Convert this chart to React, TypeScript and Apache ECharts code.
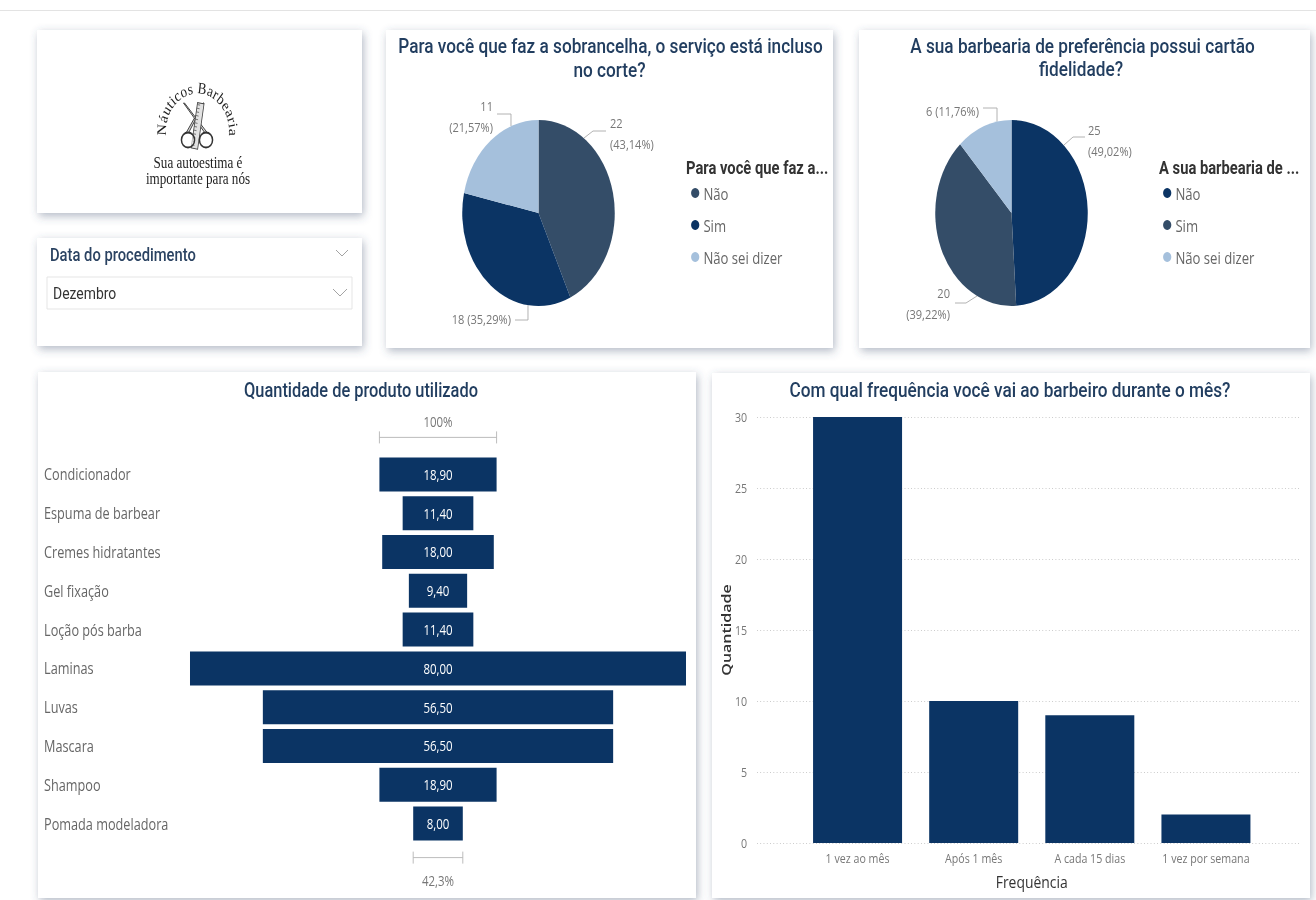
import React, { useEffect, useRef } from 'react';
import * as echarts from 'echarts';

// ---------- data ----------
const pie1Title = ['Para você que faz a sobrancelha, o serviço está incluso', 'no corte?'];
const pie1LegendTitle = 'Para você que faz a...';
const pie1Names = ['Não', 'Sim', 'Não sei dizer'];
const pie1Values = [22, 18, 11];
const pie1Wrap = [true, false, true];

const pie2Title = ['A sua barbearia de preferência possui cartão', 'fidelidade?'];
const pie2LegendTitle = 'A sua barbearia de ...';
const pie2Names = ['Não', 'Sim', 'Não sei dizer'];
const pie2Values = [25, 20, 6];
const pie2Wrap = [true, true, false];

const productTitle = 'Quantidade de produto utilizado';
const products = [
  'Condicionador', 'Espuma de barbear', 'Cremes hidratantes', 'Gel fixação', 'Loção pós barba',
  'Laminas', 'Luvas', 'Mascara', 'Shampoo', 'Pomada modeladora',
];
const productValues = [18.9, 11.4, 18.0, 9.4, 11.4, 80.0, 56.5, 56.5, 18.9, 8.0];

const freqTitle = 'Com qual frequência você vai ao barbeiro durante o mês?';
const freqCategories = ['1 vez ao mês', 'Após 1 mês', 'A cada 15 dias', '1 vez por semana'];
const freqValues = [30, 10, 9, 2];
const freqAxisMin = 0;
const freqAxisMax = 30;
const freqAxisInterval = 5;
const freqXName = 'Frequência';
const freqYName = 'Quantidade';

const logoArcText = 'Náuticos Barbearia';
const logoTagline = ['Sua autoestima é', 'importante para nós'];
const slicerTitle = 'Data do procedimento';
const slicerValue = 'Dezembro';

// ---------- styles / layout ----------
const SX = 0.82;
const PAGE_W = 1316;
const PAGE_H = 900;
const W = Math.round(PAGE_W / SX);
const X = (v: number) => v / SX;

const NAVY = '#0b3464';
const SLATE = '#344d68';
const LIGHT = '#a5c0dc';
const TITLE_COLOR = '#223e60';
const BODY_FONT = '"Open Sans", "Noto Sans", sans-serif';
const TITLE_FONT = 'Roboto, "Noto Sans", sans-serif';
const SERIF = '"Liberation Serif", "DejaVu Serif", serif';

const pie1Colors = [SLATE, NAVY, LIGHT];
const pie2Colors = [NAVY, SLATE, LIGHT];

const br = (v: number, d: number) => v.toFixed(d).replace('.', ',');

function pieLabelPos1(i: number) {
  const L = [
    { x: X(610), y: 133.5, align: 'left', line: [[X(584), 138], [X(593), 131], [X(606), 131]] },
    { x: X(511), y: 319, align: 'right', line: [[X(528), 305], [X(528), 320], [X(515), 320]] },
    { x: X(493), y: 116.5, align: 'right', line: [[X(511), 126], [X(511), 114], [X(497), 114]] },
  ];
  return L[i];
}
function pieLabelPos2(i: number) {
  const L = [
    { x: X(1088), y: 140.5, align: 'left', line: [[X(1064), 145], [X(1073), 137], [X(1085), 137]] },
    { x: X(950), y: 304, align: 'right', line: [[X(977), 296], [X(966), 303], [X(955), 303]] },
    { x: X(979), y: 111, align: 'right', line: [[X(997), 121.7], [X(997), 108], [X(983), 108]] },
  ];
  return L[i];
}

function measure(text: string, font: string) {
  try {
    const c = document.createElement('canvas').getContext('2d');
    if (c) {
      c.font = font;
      return c.measureText(text).width;
    }
  } catch (e) {}
  return text.length * 7;
}

function buildGraphic() {
  const g: any[] = [];
  g.push({ type: 'line', silent: true, shape: { x1: 0, y1: 10.5, x2: W, y2: 10.5 }, style: { stroke: '#e0e0e0', lineWidth: 1 } });
  const cards = [
    [37, 30, 325, 183],
    [37, 238, 325, 108],
    [386, 30, 447, 318],
    [859, 30, 451, 318],
    [38, 372, 658, 526],
    [712, 373, 598, 525],
  ];
  cards.forEach(([x, y, w, h]) =>
    g.push({
      type: 'rect', silent: true,
      shape: { x: X(x), y, width: X(w), height: h },
      style: { fill: '#fff', shadowBlur: 10, shadowColor: 'rgba(60,80,110,0.4)', shadowOffsetX: 2, shadowOffsetY: 3 },
    })
  );

  const title = (text: string, cx: number, y: number, size = 21) => ({
    type: 'text', silent: true, x: X(cx), y,
    style: { text, fill: TITLE_COLOR, fontFamily: TITLE_FONT, fontSize: size, fontWeight: 500, align: 'center', verticalAlign: 'middle' },
  });
  g.push(title(pie1Title[0], 610.5, 46));
  g.push(title(pie1Title[1], 609.5, 70));
  g.push(title(pie2Title[0], 1082.5, 46));
  g.push(title(pie2Title[1], 1081, 69));
  g.push(title(productTitle, 361, 390, 20));
  g.push(title(freqTitle, 1010, 390));

  const legendTitle = (text: string, x: number) => ({
    type: 'text', silent: true, x: X(x), y: 168,
    style: { text, fill: '#333', fontFamily: TITLE_FONT, fontSize: 18, fontWeight: 'bold', align: 'left', verticalAlign: 'middle' },
  });
  g.push(legendTitle(pie1LegendTitle, 686));
  g.push(legendTitle(pie2LegendTitle, 1159));

  // logo arc text (letters laid out along an arc by their measured widths)
  const arcFontSize = 16;
  const arcFont = `${arcFontSize}px ${SERIF}`;
  const chars = logoArcText.split('');
  const widths = chars.map((ch) => measure(ch, arcFont) * 0.98);
  const total = widths.reduce((a, b) => a + b, 0);
  const cx = X(197.5), cy = 132, R = 36;
  const startAng = -Math.PI / 2 - total / R / 2;
  let acc = 0;
  chars.forEach((ch, i) => {
    const mid = acc + widths[i] / 2;
    acc += widths[i];
    const rad = startAng + mid / R;
    g.push({
      type: 'text', silent: true,
      x: cx + R * Math.cos(rad), y: cy + R * Math.sin(rad),
      rotation: -(rad + Math.PI / 2),
      style: { text: ch, fill: '#1e1e1e', fontFamily: SERIF, fontSize: arcFontSize, align: 'center', verticalAlign: 'bottom' },
    });
  });
  // scissors (behind)
  g.push({ type: 'polygon', silent: true, shape: { points: [[X(186), 133], [X(188.5), 133], [X(204), 103], [X(203), 103]] }, style: { fill: '#d6d6d6', stroke: '#333', lineWidth: 1 } });
  g.push({ type: 'polygon', silent: true, shape: { points: [[X(205), 133], [X(207.5), 133], [X(184.5), 103], [X(183.5), 103]] }, style: { fill: '#d6d6d6', stroke: '#333', lineWidth: 1 } });
  // comb
  const teeth: any[] = [];
  for (let i = 0; i < 12; i++) {
    teeth.push({ type: 'line', shape: { x1: -4.5, y1: -21 + i * 3.7, x2: -1, y2: -21 + i * 3.7 }, style: { stroke: '#555', lineWidth: 0.8 } });
  }
  g.push({
    type: 'group', silent: true, x: X(198), y: 126, rotation: -0.17,
    children: [
      { type: 'rect', shape: { x: -4.5, y: -23, width: 8, height: 46 }, style: { fill: '#e2e2e2', stroke: '#444', lineWidth: 1 } },
      ...teeth,
    ],
  });
  g.push({ type: 'ellipse', silent: true, shape: { cx: X(188), cy: 140, rx: 8, ry: 7.5 }, style: { fill: 'rgba(255,255,255,0.6)', stroke: '#333', lineWidth: 1.8 } });
  g.push({ type: 'ellipse', silent: true, shape: { cx: X(206), cy: 140, rx: 8, ry: 7.5 }, style: { fill: 'rgba(255,255,255,0.6)', stroke: '#333', lineWidth: 1.8 } });
  logoTagline.forEach((t, i) =>
    g.push({
      type: 'text', silent: true, x: X(198), y: 163 + i * 16,
      style: { text: t, fill: '#1e1e1e', fontFamily: SERIF, fontSize: 16, align: 'center', verticalAlign: 'middle' },
    })
  );

  // slicer
  g.push({
    type: 'text', silent: true, x: X(50), y: 255,
    style: { text: slicerTitle, fill: '#2b4362', fontFamily: TITLE_FONT, fontSize: 18, fontWeight: 500, align: 'left', verticalAlign: 'middle' },
  });
  g.push({ type: 'polyline', silent: true, shape: { points: [[X(336), 250], [X(342), 256], [X(348), 250]] }, style: { stroke: '#999', lineWidth: 1, fill: 'none' } });
  g.push({ type: 'rect', silent: true, shape: { x: X(47), y: 277, width: X(305), height: 32 }, style: { fill: '#fff', stroke: '#e2e2e2', lineWidth: 1 } });
  g.push({
    type: 'text', silent: true, x: X(53), y: 294,
    style: { text: slicerValue, fill: '#333', fontFamily: TITLE_FONT, fontSize: 17, align: 'left', verticalAlign: 'middle' },
  });
  g.push({ type: 'polyline', silent: true, shape: { points: [[X(333), 289], [X(340), 296], [X(347), 289]] }, style: { stroke: '#999', lineWidth: 1, fill: 'none' } });
  return g;
}

function pieSeries(names: string[], values: number[], colors: string[], wrap: boolean[], center: [number, number], pos: (i: number) => any) {
  return {
    type: 'pie',
    center,
    radius: 93,
    startAngle: 90,
    clockwise: true,
    silent: true,
    data: names.map((n, i) => ({ name: n, value: values[i], itemStyle: { color: colors[i] } })),
    label: {
      show: true,
      color: '#777',
      fontFamily: BODY_FONT,
      fontSize: 13.5,
      lineHeight: 21,
      formatter: (p: any) => `${p.value}${wrap[p.dataIndex] ? '\n' : ' '}(${br(p.percent, 2)}%)`,
    },
    labelLine: { show: true, lineStyle: { color: '#aaa', width: 1 } },
    labelLayout: (p: any) => {
      const L = pos(p.dataIndex);
      return { x: L.x, y: L.y, align: L.align, verticalAlign: 'middle', labelLinePoints: L.line };
    },
  };
}

function buildOption() {
  const MAX = Math.max(...productValues);
  const first = productValues[0];
  const last = productValues[productValues.length - 1];
  const bracketLabels = ['100%', `${br((last / first) * 100, 1)}%`];

  const legend = (names: string[], colors: string[], left: number) => ({
    orient: 'vertical',
    left,
    top: 180,
    icon: 'circle',
    itemWidth: 10,
    itemHeight: 10,
    itemGap: 16,
    selectedMode: false,
    textStyle: { color: '#666', fontSize: 16, lineHeight: 16, fontFamily: BODY_FONT },
    data: names.map((n, i) => ({ name: n, itemStyle: { color: colors[i] } })),
  });

  return {
    animation: false,
    backgroundColor: '#fff',
    textStyle: { fontFamily: BODY_FONT },
    graphic: buildGraphic(),
    legend: [legend(pie1Names, pie1Colors, X(687)), legend(pie2Names, pie2Colors, X(1159))],
    grid: [
      { left: X(190), width: X(686) - X(190), top: 455, height: 388 },
      { left: X(757), width: X(1300) - X(757), top: 417, height: 426 },
      { left: X(799.5), width: X(1264) - X(799.5), top: 417, height: 426 },
    ],
    xAxis: [
      { gridIndex: 0, type: 'value', min: 0, max: MAX, show: false },
      { gridIndex: 1, type: 'value', min: 0, max: 1, show: false },
      {
        gridIndex: 2, type: 'category', data: freqCategories,
        axisLine: { show: false }, axisTick: { show: false },
        axisLabel: { color: '#777', fontSize: 13, margin: 8, fontFamily: BODY_FONT },
        name: freqXName, nameLocation: 'middle', nameGap: 30,
        nameTextStyle: { color: '#333', fontSize: 17, fontFamily: BODY_FONT },
      },
    ],
    yAxis: [
      {
        gridIndex: 0, type: 'category', data: products, inverse: true,
        axisLine: { show: false }, axisTick: { show: false },
        axisLabel: { align: 'left', margin: X(190) - X(44), color: '#666', fontSize: 15.5, fontFamily: BODY_FONT },
      },
      {
        gridIndex: 1, type: 'value', min: freqAxisMin, max: freqAxisMax, interval: freqAxisInterval,
        axisLine: { show: false }, axisTick: { show: false },
        axisLabel: { color: '#777', fontSize: 13, margin: 12, fontFamily: BODY_FONT },
        splitLine: { lineStyle: { type: [1, 3], color: '#bbbbbb', width: 1 } },
        name: freqYName, nameLocation: 'middle', nameGap: 27,
        nameTextStyle: { color: '#333', fontSize: 16, fontWeight: 600, fontFamily: BODY_FONT },
      },
      { gridIndex: 2, type: 'value', min: freqAxisMin, max: freqAxisMax, show: false },
    ],
    series: [
      pieSeries(pie1Names, pie1Values, pie1Colors, pie1Wrap, [X(538.5), 213], pieLabelPos1),
      pieSeries(pie2Names, pie2Values, pie2Colors, pie2Wrap, [X(1011.5), 213], pieLabelPos2),
      {
        type: 'bar', xAxisIndex: 0, yAxisIndex: 0, stack: 'funnel', silent: true,
        barWidth: 34,
        itemStyle: { color: 'rgba(0,0,0,0)' },
        data: productValues.map((v) => (MAX - v) / 2),
      },
      {
        type: 'bar', xAxisIndex: 0, yAxisIndex: 0, stack: 'funnel', silent: true,
        barWidth: 34,
        itemStyle: { color: NAVY },
        label: {
          show: true, position: 'inside', color: '#fff', fontSize: 14, fontFamily: BODY_FONT,
          formatter: (p: any) => br(p.value, 2),
        },
        data: productValues,
      },
      {
        type: 'custom', xAxisIndex: 0, yAxisIndex: 0, silent: true,
        encode: { x: 0, y: 1 },
        data: [[first, 0], [last, productValues.length - 1]],
        renderItem: (params: any, api: any) => {
          const v = api.value(0);
          const idx = api.value(1);
          const l = api.coord([(MAX - v) / 2, idx]);
          const r = api.coord([(MAX + v) / 2, idx]);
          const top = params.dataIndex === 0;
          const y = l[1] + (top ? -37 : 34);
          const ty = l[1] + (top ? -53 : 57);
          const st = { stroke: '#b5b5b5', lineWidth: 1 };
          return {
            type: 'group',
            children: [
              { type: 'line', shape: { x1: l[0], y1: y, x2: r[0], y2: y }, style: st },
              { type: 'line', shape: { x1: l[0], y1: y - 6, x2: l[0], y2: y + 6 }, style: st },
              { type: 'line', shape: { x1: r[0], y1: y - 6, x2: r[0], y2: y + 6 }, style: st },
              {
                type: 'text', x: (l[0] + r[0]) / 2, y: ty,
                style: { text: bracketLabels[params.dataIndex], fill: '#777', fontSize: 14, fontFamily: BODY_FONT, align: 'center', verticalAlign: 'middle' },
              },
            ],
          };
        },
      },
      {
        type: 'bar', xAxisIndex: 2, yAxisIndex: 2, silent: true,
        barWidth: X(89),
        itemStyle: { color: NAVY },
        data: freqValues,
      },
    ],
  };
}

export default function App() {
  const ref = useRef<HTMLDivElement>(null);
  useEffect(() => {
    if (!ref.current) return;
    const chart = echarts.init(ref.current, undefined, { renderer: 'svg' });
    chart.setOption(buildOption() as any);
    return () => chart.dispose();
  }, []);
  return (
    <div style={{ position: 'fixed', left: 0, top: 0, width: PAGE_W, height: PAGE_H, overflow: 'hidden', background: '#fff' }}>
      <div
        ref={ref}
        style={{ width: W, height: PAGE_H, transform: `scaleX(${SX})`, transformOrigin: '0 0' }}
      />
    </div>
  );
}
